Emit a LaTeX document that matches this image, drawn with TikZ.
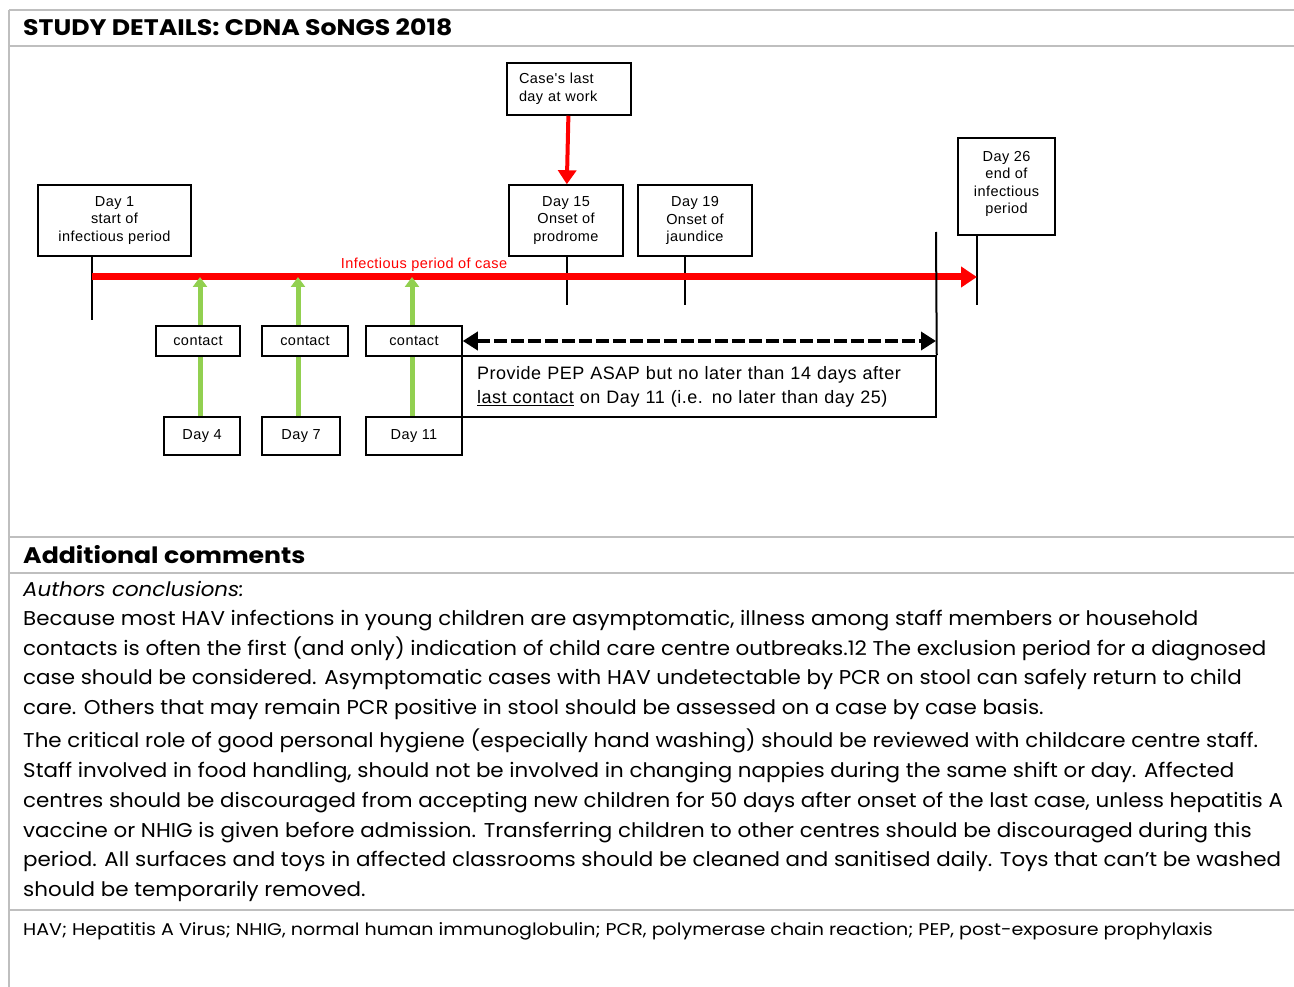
\documentclass[tikz,border=0pt]{standalone}
\usepackage{fontspec}
\setmainfont{Poppins}
\newfontfamily\bodyfont[FakeStretch=1.07]{Poppins}
\newfontfamily\headfont[FakeStretch=1.12]{Poppins}
\newfontfamily\notefont[FakeStretch=1.12]{Poppins}
\newfontfamily\arialfont[LetterSpace=3]{Liberation Sans}
\usetikzlibrary{arrows.meta}
\definecolor{framegray}{RGB}{191,191,191}
\definecolor{contactgreen}{RGB}{146,208,80}

\tikzset{
  daybox/.style={draw, line width=1.5pt, fill=white, inner sep=0pt, align=center,
    font=\arialfont\fontsize{14.5}{17.5}\selectfont},
  frameline/.style={draw=framegray, line width=2pt},
  tickline/.style={line width=2.5pt},
  redline/.style={red, line width=7pt, -{Triangle[length=16pt, width=20pt]}},
  greenline/.style={contactgreen, line width=5pt, -{Triangle[length=10pt, width=14pt]}},
  dashline/.style={line width=3.5pt, dash pattern=on 13pt off 4pt,
    {Triangle[length=15pt, width=18pt]}-{Triangle[length=15pt, width=18pt]}},
  bodytext/.style={anchor=base west, inner sep=0pt, font=\bodyfont\fontsize{20}{30}\selectfont},
  headtext/.style={anchor=base west, inner sep=0pt, font=\headfont\bfseries\fontsize{22.5}{26}\selectfont}
}

\begin{document}
\begin{tikzpicture}[x=1pt, y=-1pt]
    \useasboundingbox (0,0) rectangle (1294,987);

    % Rahmen
    \draw[frameline] (9,10) -- (9,987);
    \foreach \yy in {10,46,537,573,910}
      \draw[frameline] (9,\yy) -- (1294,\yy);

    % Judul
    \node[headtext] (title) at (23,36) {STUDY DETAILS: CDNA SoNGS 2018};
    \node[headtext] (comments) at (23,563) {Additional comments};

    % Kotak hari
    \node[daybox, minimum width=124pt, minimum height=52pt, text width=100pt, align=left] (lastday) at (569,89) {Case's last\\day at work};
    \node[daybox, minimum width=153pt, minimum height=71pt] (day1) at (114.5,220.5) {Day 1\\start of\\infectious period};
    \node[daybox, minimum width=114pt, minimum height=71pt] (day15) at (566,220.5) {Day 15\\Onset of\\prodrome};
    \node[daybox, minimum width=114pt, minimum height=71pt] (day19) at (695,220.5) {Day 19\\Onset of\\jaundice};
    \node[daybox, minimum width=97pt, minimum height=97pt] (day26) at (1006.5,186.5) {Day 26\\end of\\infectious\\period\\[-9pt]};

    % Titik ujung garis
    \coordinate (start) at (92,277);
    \coordinate (stop) at (977,277);
    \coordinate (t1) at (92,320);
    \coordinate (t15) at (567,305);
    \coordinate (t19) at (685,305);
    \coordinate (t26) at (977,305);
    \coordinate (bar) at (936,232);

    % Garis tanda
    \draw[tickline] (day1.south -| t1) -- (t1);
    \draw[tickline] (day15.south -| t15) -- (t15);
    \draw[tickline] (day19.south -| t19) -- (t19);
    \draw[tickline] (day26.south -| t26) -- (t26);

    % Masa menular
    \draw[redline] (start) -- (stop);
    \node[red, inner sep=0pt, font=\arialfont\fontsize{14.5}{16}\selectfont] (inflabel) at (424,265) {Infectious period of case};
    \draw[red, line width=4pt, -{Triangle[length=14pt, width=18pt]}] (lastday) -- (day15);

    % Kontak
    \coordinate (g4) at (200,417);
    \coordinate (g7) at (298,417);
    \coordinate (g11) at (412,417);
    \foreach \g in {g4,g7,g11}
      \draw[greenline] (\g) -- (\g |- start);

    \node[daybox, minimum width=84pt, minimum height=30pt] (con4) at (198,341) {contact};
    \node[daybox, minimum width=86pt, minimum height=30pt] (con7) at (305,341) {contact};
    \node[daybox, minimum width=96pt, minimum height=30pt] (con11) at (414,341) {contact};
    \node[daybox, minimum width=76pt, minimum height=38pt] (day4) at (202,436) {Day 4};
    \node[daybox, minimum width=78pt, minimum height=38pt] (day7) at (301,436) {Day 7};
    \node[daybox, minimum width=96pt, minimum height=38pt] (day11) at (414,436) {Day 11};

    % PEP
    \node[daybox, minimum width=474pt, minimum height=61pt, text width=444pt, align=left,
      font=\arialfont\fontsize{18}{24}\selectfont] (pep) at (699,386.5)
      {Provide PEP ASAP but no later than 14 days after\\\underline{last contact} on Day 11 (i.e. no later than day 25)};
    \draw[line width=2pt] (bar) -- (pep.north east);
    \draw[dashline] (con11.east) -- (con11.east -| bar);

    % Komentar
    \node[bodytext, font=\bodyfont\itshape\fontsize{20}{30}\selectfont] (concl) at (23,596) {Authors conclusions:};
    \node[bodytext] (p1) at (23,625) {Because most HAV infections in young children are asymptomatic, illness among staff members or household};
    \node[bodytext] (p2) at (23,655) {contacts is often the first (and only) indication of child care centre outbreaks.12 The exclusion period for a diagnosed};
    \node[bodytext] (p3) at (23,684) {case should be considered. Asymptomatic cases with HAV undetectable by PCR on stool can safely return to child};
    \node[bodytext] (p4) at (23,714) {care. Others that may remain PCR positive in stool should be assessed on a case by case basis.};
    \node[bodytext] (q1) at (23,747) {The critical role of good personal hygiene (especially hand washing) should be reviewed with childcare centre staff.};
    \node[bodytext] (q2) at (23,777) {Staff involved in food handling, should not be involved in changing nappies during the same shift or day. Affected};
    \node[bodytext] (q3) at (23,807) {centres should be discouraged from accepting new children for 50 days after onset of the last case, unless hepatitis A};
    \node[bodytext] (q4) at (23,837) {vaccine or NHIG is given before admission. Transferring children to other centres should be discouraged during this};
    \node[bodytext] (q5) at (23,866) {period. All surfaces and toys in affected classrooms should be cleaned and sanitised daily. Toys that can’t be washed};
    \node[bodytext] (q6) at (23,896) {should be temporarily removed.};

    % Singkatan
    \node[bodytext, font=\notefont\fontsize{17}{18}\selectfont] (abbr) at (23,935) {HAV; Hepatitis A Virus; NHIG, normal human immunoglobulin; PCR, polymerase chain reaction; PEP, post-exposure prophylaxis};

\end{tikzpicture}
\end{document}
